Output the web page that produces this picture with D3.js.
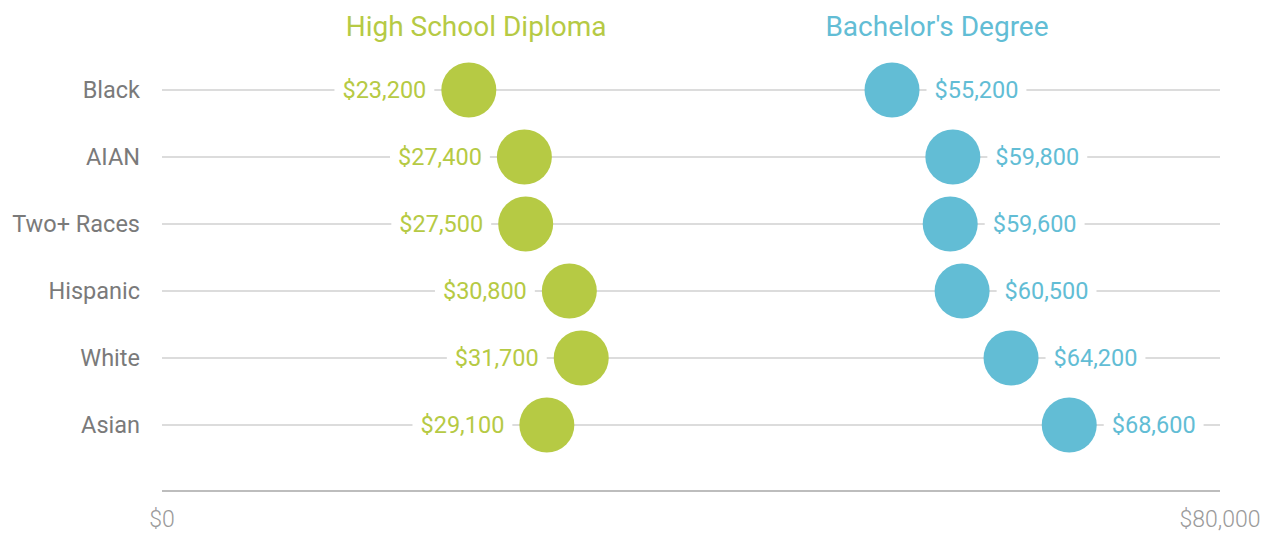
<!DOCTYPE html>
<html lang="en">
  <head>
    <meta charset="UTF-8" />
    <style>
      body {
        margin: 0;
        background: #fff;
      }
      svg {
        font-family: Roboto, "Noto Sans", sans-serif;
      }
      .grid line {
        stroke: #dcdcdc;
        stroke-width: 2;
      }
      .axis line {
        stroke: #bdbdbd;
        stroke-width: 2;
      }
      .cat {
        fill: #7a7a7a;
        font-size: 23.5px;
      }
      .tick-label {
        fill: #9a9a9a;
        font-size: 23px;
        font-weight: 300;
      }
    </style>
    <script src="https://d3js.org/d3.v7.min.js"></script>
    <title>Earnings by degree</title>
  </head>
  <body>
    <script>
      var groups = ["Black", "AIAN", "Two+ Races", "Hispanic", "White", "Asian"];
      var highSchool = [23200, 27400, 27500, 30800, 31700, 29100];
      var bachelors = [55200, 59800, 59600, 60500, 64200, 68600];
      var seriesNames = ["High School Diploma", "Bachelor's Degree"];
      var xTicks = [0, 80000];

      var green = "#b6ca44",
        blue = "#62bdd5";

      var width = 1273,
        height = 533,
        r = 27.5;

      var svg = d3
        .select("body")
        .append("svg")
        .attr("width", width)
        .attr("height", height);

      var x = d3.scaleLinear().domain([0, 80000]).range([162, 1220]);
      var y = d3.scalePoint().domain(groups).range([90, 425]);
      var axisY = 491;

      var fmt = function (v) {
        return "$" + d3.format(",")(v);
      };

      // grid lines per row
      svg
        .append("g")
        .attr("class", "grid")
        .selectAll("line")
        .data(groups)
        .enter()
        .append("line")
        .attr("x1", x(0))
        .attr("x2", x(80000))
        .attr("y1", function (d) {
          return y(d);
        })
        .attr("y2", function (d) {
          return y(d);
        });

      // bottom axis
      var axis = svg.append("g").attr("class", "axis");
      axis
        .append("line")
        .attr("x1", x(0))
        .attr("x2", x(80000))
        .attr("y1", axisY)
        .attr("y2", axisY);
      axis
        .selectAll("text")
        .data(xTicks)
        .enter()
        .append("text")
        .attr("class", "tick-label")
        .attr("x", function (d) {
          return x(d);
        })
        .attr("y", 527)
        .attr("text-anchor", "middle")
        .text(fmt);

      // category labels
      svg
        .selectAll(".cat")
        .data(groups)
        .enter()
        .append("text")
        .attr("class", "cat")
        .attr("x", 140)
        .attr("y", function (d) {
          return y(d);
        })
        .attr("dy", "0.36em")
        .attr("text-anchor", "end")
        .text(function (d) {
          return d;
        });

      function drawSeries(values, color, side) {
        var g = svg.append("g");
        var rows = values.map(function (v, i) {
          return { cat: groups[i], v: v };
        });

        var lbl = g
          .selectAll("g.lbl")
          .data(rows)
          .enter()
          .append("g")
          .attr("class", "lbl");

        var txt = lbl
          .append("text")
          .attr("x", function (d) {
            return side < 0 ? x(d.v) - r - 15 : x(d.v) + r + 15;
          })
          .attr("y", function (d) {
            return y(d.cat);
          })
          .attr("dy", "0.36em")
          .attr("text-anchor", side < 0 ? "end" : "start")
          .style("font-size", "23.5px")
          .style("fill", color)
          .text(function (d) {
            return fmt(d.v);
          });

        // white backing to cut the grid line around the label
        txt.each(function () {
          var b = this.getBBox();
          d3.select(this.parentNode)
            .insert("rect", "text")
            .attr("x", b.x - 8)
            .attr("y", b.y)
            .attr("width", b.width + 16)
            .attr("height", b.height)
            .attr("fill", "#fff");
        });

        g.selectAll("circle")
          .data(rows)
          .enter()
          .append("circle")
          .attr("cx", function (d) {
            return x(d.v);
          })
          .attr("cy", function (d) {
            return y(d.cat);
          })
          .attr("r", r)
          .attr("fill", color);
      }

      drawSeries(highSchool, green, -1);
      drawSeries(bachelors, blue, 1);

      // series titles
      svg
        .append("text")
        .attr("x", x(23750))
        .attr("y", 36)
        .attr("text-anchor", "middle")
        .style("font-size", "28px")
        .style("fill", green)
        .text(seriesNames[0]);
      svg
        .append("text")
        .attr("x", x(58600))
        .attr("y", 36)
        .attr("text-anchor", "middle")
        .style("font-size", "28px")
        .style("fill", blue)
        .text(seriesNames[1]);
    </script>
  </body>
</html>
